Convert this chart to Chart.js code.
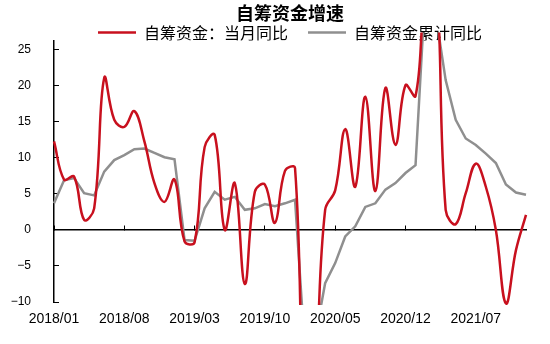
<!DOCTYPE html>
<html lang="zh-CN">
<head>
  <meta charset="UTF-8">
  <title>自筹资金增速</title>
  <script src="https://cdn.jsdelivr.net/npm/chart.js"></script>
  <style>
    body {
      margin: 0;
      padding: 0;
      background: #ffffff;
    }
  </style>
</head>
<body>

  <canvas id="fundChart" width="550" height="344"></canvas>

  <script>
    // 2018/01 - 2021/12，按月
    const months = [];
    for (let y = 2018; y <= 2021; y++) {
      for (let m = 1; m <= 12; m++) {
        months.push(y + '/' + String(m).padStart(2, '0'));
      }
    }

    // 自筹资金：当月同比 (%)
    const monthlyYoY = [
      12.3, 7.0, 7.4, 1.4, 3.0, 21.1, 15.3, 14.3, 16.5, 12.3, 6.5, 3.9,
      7.0, -1.6, -1.7, 11.5, 13.2, 0.0, 6.5, -7.5, 5.3, 6.3, 1.0, 8.2,
      8.6, -30.0, -20.0, 2.8, 5.5, 14.0, 6.0, 18.5, 5.4, 19.7, 11.8, 20.1,
      18.6, 33.0, 36.0, 2.8, 0.8, 5.1, 9.2, 6.0, 0.0, -10.2, -2.8, 2.1
    ];

    // 自筹资金累计同比 (%)
    const cumulativeYoY = [
      3.7, 6.9, 7.2, 5.1, 4.8, 8.1, 9.7, 10.4, 11.2, 11.3, 10.7, 10.1,
      9.8, -1.4, -1.5, 3.0, 5.3, 4.2, 4.6, 2.8, 3.0, 3.6, 3.3, 3.7,
      4.2, -17.0, -15.0, -7.4, -4.6, -0.9, 0.5, 3.2, 3.7, 5.6, 6.5, 7.9,
      9.0, 34.0, 30.0, 20.8, 15.3, 12.7, 11.8, 10.6, 9.3, 6.3, 5.2, 4.9
    ];

    const xTickLabels = ['2018/01', '2018/08', '2019/03', '2019/10', '2020/05', '2020/12', '2021/07'];
    const yTickValues = [-10, -5, 0, 5, 10, 15, 20, 25];

    const cjkFont = '"Noto Sans CJK SC", "Noto Sans", sans-serif';
    const numFont = '"Liberation Sans", Arial, sans-serif';

    // only keep the months that carry a label
    function keepLabelTicks(scale) {
      scale.ticks = scale.ticks.filter(t => xTickLabels.includes(months[t.value]));
    }

    const ctx = document.getElementById('fundChart').getContext('2d');
    const fundChart = new Chart(ctx, {
      type: 'line',
      data: {
        labels: months,
        datasets: [
          {
            label: '自筹资金：当月同比',
            data: monthlyYoY,
            borderColor: '#c8101e',
            backgroundColor: '#c8101e',
            borderWidth: 2.5,
            pointRadius: 0,
            tension: 0.4,
            clip: { left: 2, top: 8, right: 2, bottom: 3 }
          },
          {
            label: '自筹资金累计同比',
            data: cumulativeYoY,
            borderColor: '#8f8f8f',
            backgroundColor: '#8f8f8f',
            borderWidth: 2.5,
            pointRadius: 0,
            tension: 0,
            clip: { left: 2, top: 8, right: 2, bottom: 3 }
          }
        ]
      },
      options: {
        responsive: false,
        animation: false,
        layout: {
          padding: { left: 6, right: 24, top: 0, bottom: 0 }
        },
        plugins: {
          title: {
            display: true,
            fullSize: false,
            text: '自筹资金增速',
            color: '#000',
            font: { family: cjkFont, size: 18, weight: 'bold' },
            padding: { top: 2, bottom: -19.1 }
          },
          legend: {
            position: 'top',
            fullSize: false,
            maxHeight: 36,
            labels: {
              usePointStyle: true,
              pointStyle: 'line',
              pointStyleWidth: 38,
              padding: 20,
              color: '#000',
              font: { family: cjkFont, size: 16 }
            }
          },
          tooltip: { enabled: false }
        },
        scales: {
          // axis line through zero with the month tick marks
          x: {
            type: 'category',
            position: { y: 0 },
            offset: false,
            grid: {
              display: true,
              offset: false,
              drawOnChartArea: false,
              drawTicks: true,
              tickLength: -5,
              color: '#000',
              lineWidth: 1
            },
            border: { color: '#000', width: 1.5 },
            ticks: { display: false, autoSkip: false },
            afterBuildTicks: keepLabelTicks
          },
          // month labels along the bottom
          xLab: {
            type: 'category',
            position: 'bottom',
            offset: false,
            grid: { display: false, drawTicks: false },
            border: { display: false },
            ticks: {
              autoSkip: false,
              maxRotation: 0,
              padding: 9,
              color: '#000',
              font: { family: numFont, size: 14 }
            },
            afterBuildTicks: keepLabelTicks,
            afterFit: s => {
              s.height = 42;
              s.paddingLeft = 0;
              s.paddingRight = 0;
            }
          },
          y: {
            min: -10,
            max: 26.3,
            grid: {
              display: true,
              drawOnChartArea: false,
              drawTicks: true,
              tickLength: -5,
              color: '#000',
              lineWidth: 1
            },
            border: { color: '#000', width: 1.5 },
            ticks: {
              padding: 28,
              color: '#000',
              font: { family: numFont, size: 12 },
              callback: v => String(v).replace('-', '−')
            },
            afterBuildTicks: s => {
              s.ticks = yTickValues.map(v => ({ value: v }));
            },
            afterFit: s => {
              s.width = 48;
              s.paddingTop = 0;
              s.paddingBottom = 0;
            }
          }
        }
      }
    });
  </script>

</body>
</html>
